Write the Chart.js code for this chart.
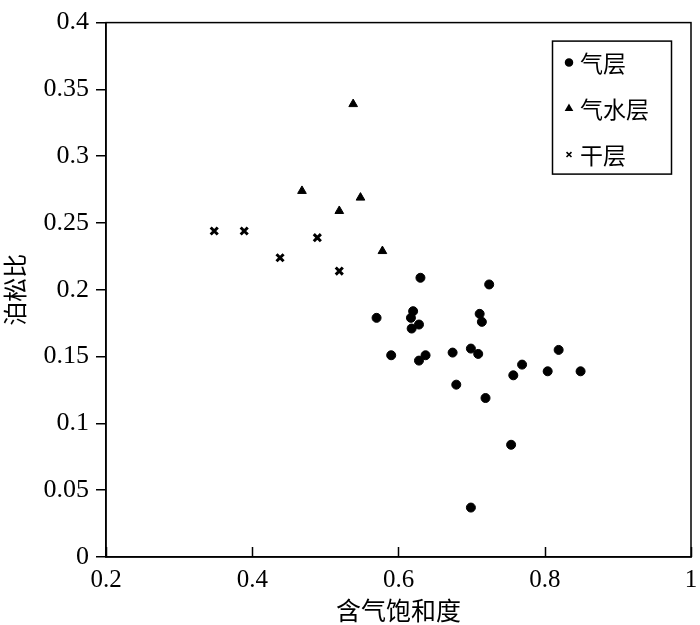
<!DOCTYPE html>
<html>
<head>
<meta charset="utf-8">
<script src="https://cdn.jsdelivr.net/npm/chart.js@4/dist/chart.umd.min.js"></script>
<style>
  html, body { margin: 0; padding: 0; background: #fff; }
  #wrap { width: 700px; height: 625px; }
</style>
</head>
<body>
<div id="wrap"><canvas id="chart" width="700" height="625"></canvas></div>
<script>
// 气层
const gasX = [0.57, 0.59, 0.63, 0.62, 0.617, 0.628, 0.618, 0.724, 0.711, 0.714, 0.637, 0.628,
  0.674, 0.699, 0.709, 0.819, 0.769, 0.757, 0.804, 0.849, 0.679, 0.719, 0.754, 0.699];
const gasY = [0.179, 0.151, 0.209, 0.184, 0.179, 0.174, 0.171, 0.204, 0.182, 0.176, 0.151, 0.147,
  0.153, 0.156, 0.152, 0.155, 0.144, 0.136, 0.139, 0.139, 0.129, 0.119, 0.084, 0.037];
// 气水层
const gasWaterX = [0.538, 0.468, 0.548, 0.519, 0.578];
const gasWaterY = [0.339, 0.274, 0.269, 0.259, 0.229];
// 干层
const dryX = [0.348, 0.389, 0.489, 0.438, 0.519];
const dryY = [0.244, 0.244, 0.239, 0.224, 0.214];

const seriesNames = ['气层', '气水层', '干层'];
const xTitle = '含气饱和度';
const yTitle = '泊松比';

const toPoints = (xs, ys) => xs.map((x, i) => ({ x, y: ys[i] }));
const fmt = (v) => String(+Number(v).toFixed(2));

const serif = '"Liberation Serif", "Times New Roman", serif';
const cjk = '"Noto Sans CJK SC", sans-serif';

// x ticks point up into the plot; top and right frame lines
const frameTicks = {
  id: 'frameTicks',
  afterDraw(chart) {
    const { ctx, chartArea: a, scales } = chart;
    ctx.save();
    ctx.strokeStyle = '#000';
    ctx.lineWidth = 1.5;
    ctx.strokeRect(a.left, a.top, a.right - a.left, a.bottom - a.top);
    ctx.beginPath();
    scales.x.ticks.forEach((t) => {
      const px = Math.round(scales.x.getPixelForValue(t.value)) + 0.5;
      ctx.moveTo(px, a.bottom);
      ctx.lineTo(px, a.bottom - 10);
    });
    ctx.stroke();
    ctx.restore();
  },
};

// boxed legend in the upper right corner of the plot
const boxLegend = {
  id: 'boxLegend',
  afterDraw(chart) {
    const { ctx, chartArea: a } = chart;
    const left = a.right - 139;
    const top = a.top + 18;
    ctx.save();
    ctx.strokeStyle = '#000';
    ctx.lineWidth = 1.5;
    ctx.strokeRect(left + 0.5, top + 0.5, 119, 133);
    ctx.font = '23px ' + cjk;
    ctx.textBaseline = 'middle';
    chart.data.datasets.forEach((ds, i) => {
      const y = top + 22 + i * 46;
      ctx.fillStyle = '#000';
      ctx.strokeStyle = '#000';
      Chart.helpers.drawPoint(ctx, {
        pointStyle: ds.pointStyle,
        radius: 3.5,
        rotation: 0,
        borderWidth: ds.pointStyle === 'crossRot' ? 2.2 : 1,
      }, left + 17, y);
      ctx.fillText(ds.label, left + 28, y + 1);
    });
    ctx.restore();
  },
};

new Chart(document.getElementById('chart'), {
  type: 'scatter',
  data: {
    datasets: [
      {
        label: seriesNames[0],
        data: toPoints(gasX, gasY),
        pointStyle: 'circle',
        pointRadius: 4.5,
        backgroundColor: '#000',
        borderColor: '#000',
        borderWidth: 1,
      },
      {
        label: seriesNames[1],
        data: toPoints(gasWaterX, gasWaterY),
        pointStyle: 'triangle',
        pointRadius: 5,
        backgroundColor: '#000',
        borderColor: '#000',
        borderWidth: 1,
      },
      {
        label: seriesNames[2],
        data: toPoints(dryX, dryY),
        pointStyle: 'crossRot',
        pointRadius: 5,
        backgroundColor: '#000',
        borderColor: '#000',
        borderWidth: 3,
      },
    ],
  },
  options: {
    responsive: false,
    animation: false,
    layout: { padding: { left: 0, right: 9, top: 14, bottom: 0 } },
    plugins: {
      legend: { display: false },
      tooltip: { enabled: false },
    },
    scales: {
      x: {
        type: 'linear',
        min: 0.2,
        max: 1,
        ticks: { stepSize: 0.2, color: '#000', font: { family: serif, size: 25 }, padding: 0, maxRotation: 0, callback: fmt },
        grid: { display: false },
        border: { display: true, color: '#000', width: 1.5 },
        title: { display: true, text: xTitle, color: '#000', font: { family: cjk, size: 25 }, padding: { top: 0, bottom: 0 } },
        afterFit(scale) { scale.height = 68; },
      },
      y: {
        type: 'linear',
        min: 0,
        max: 0.4,
        ticks: { stepSize: 0.05, color: '#000', font: { family: serif, size: 26 }, padding: 7, callback: fmt },
        grid: { display: true, drawOnChartArea: false, drawTicks: true, tickLength: 10, color: '#000', lineWidth: 1.5 },
        border: { display: true, color: '#000', width: 1.5 },
        title: { display: true, text: yTitle, color: '#000', font: { family: cjk, size: 24 }, padding: { top: 0, bottom: 0 } },
        afterFit(scale) { scale.width = 106; },
      },
    },
  },
  plugins: [frameTicks, boxLegend],
});
</script>
</body>
</html>
